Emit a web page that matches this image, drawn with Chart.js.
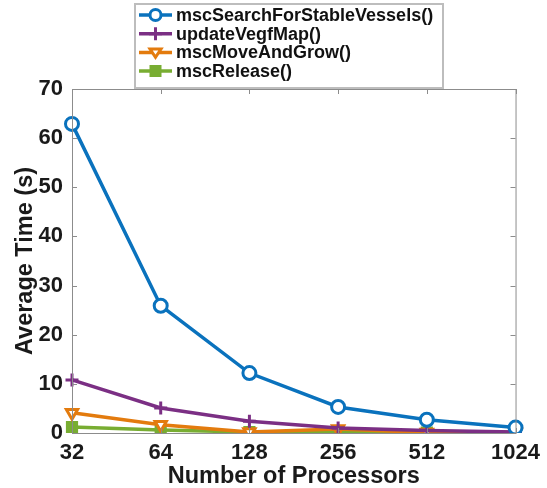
<!DOCTYPE html>
<html>
<head>
<meta charset="utf-8">
<script src="https://cdn.jsdelivr.net/npm/chart.js@4.4.1/dist/chart.umd.min.js"></script>
<style>
  html, body { margin: 0; padding: 0; background: #fff; }
  #wrap { width: 547px; height: 488px; }
</style>
</head>
<body>
<div id="wrap"><canvas id="chart" width="547" height="488"></canvas></div>
<script>
const processors = ['32', '64', '128', '256', '512', '1024'];
const searchStable = [62.9, 25.9, 12.2, 5.3, 2.7, 1.1];
const updateVegf = [10.8, 5.1, 2.4, 1.0, 0.5, 0.2];
const moveAndGrow = [4.1, 1.7, 0.2, 0.8, 0.1, 0.1];
const release = [1.2, 0.6, 0.2, 0.1, 0.1, 0.1];
const yTicks = [0, 10, 20, 30, 40, 50, 60, 70];

const font = "'Liberation Sans', Arial, sans-serif";

// box round the plot, ticks pointing in, and the boxed legend
const matlabBox = {
  id: 'matlabBox',
  afterDraw(chart) {
    const ctx = chart.ctx;
    const a = chart.chartArea;
    const x = chart.scales.x;
    const y = chart.scales.y;
    ctx.save();
    ctx.strokeStyle = '#8c8c8c';
    ctx.lineWidth = 1;
    ctx.strokeRect(a.left + 0.5, a.top + 0.5, a.right - a.left, a.bottom - a.top);
    ctx.beginPath();
    processors.forEach((p, i) => {
      const px = Math.round(x.getPixelForValue(i)) + 0.5;
      ctx.moveTo(px, a.bottom); ctx.lineTo(px, a.bottom - 5);
      ctx.moveTo(px, a.top); ctx.lineTo(px, a.top + 5);
    });
    yTicks.forEach(v => {
      const py = Math.round(y.getPixelForValue(v)) + 0.5;
      ctx.moveTo(a.left, py); ctx.lineTo(a.left + 5, py);
      ctx.moveTo(a.right, py); ctx.lineTo(a.right - 5, py);
    });
    ctx.stroke();

    // legend
    const lx = 135, ly = 4, lw = 308, lh = 84;
    ctx.fillStyle = '#fff';
    ctx.fillRect(lx, ly, lw, lh);
    ctx.strokeStyle = '#bdbdbd';
    ctx.lineWidth = 2;
    ctx.strokeRect(lx, ly, lw, lh);
    ctx.font = 'bold 18px ' + font;
    ctx.textBaseline = 'middle';
    chart.data.datasets.forEach((ds, i) => {
      const cy = 15 + i * 18.7;
      ctx.strokeStyle = ds.borderColor;
      ctx.lineWidth = 3.5;
      ctx.beginPath();
      ctx.moveTo(139, cy); ctx.lineTo(172, cy);
      ctx.stroke();
      drawMarker(ctx, ds, 155.5, cy);
      ctx.fillStyle = '#111';
      ctx.fillText(ds.label, 176, cy + 1);
    });
    ctx.restore();
  }
};

function drawMarker(ctx, ds, cx, cy) {
  const r = 5.5;
  ctx.save();
  ctx.strokeStyle = ds.borderColor;
  ctx.fillStyle = ds.pointBackgroundColor;
  ctx.lineWidth = 3;
  ctx.beginPath();
  if (ds.pointStyle === 'circle') {
    ctx.arc(cx, cy, r, 0, Math.PI * 2);
    ctx.fill(); ctx.stroke();
  } else if (ds.pointStyle === 'cross') {
    ctx.moveTo(cx - r - 1, cy); ctx.lineTo(cx + r + 1, cy);
    ctx.moveTo(cx, cy - r - 1); ctx.lineTo(cx, cy + r + 1);
    ctx.stroke();
  } else if (ds.pointStyle === 'triangle') {
    ctx.moveTo(cx - r, cy - r * 0.6); ctx.lineTo(cx + r, cy - r * 0.6); ctx.lineTo(cx, cy + r * 0.9);
    ctx.closePath(); ctx.fill(); ctx.stroke();
  } else {
    ctx.rect(cx - r + 1, cy - r + 1, 2 * r - 2, 2 * r - 2);
    ctx.fill(); ctx.stroke();
  }
  ctx.restore();
}

function series(label, data, color, style, fill, rot) {
  return {
    label: label,
    data: data,
    borderColor: color,
    backgroundColor: color,
    pointBackgroundColor: fill,
    pointBorderColor: color,
    pointStyle: style,
    pointRotation: rot || 0,
    pointRadius: 6.5,
    pointBorderWidth: 3,
    borderWidth: 3.5,
    tension: 0
  };
}

Chart.defaults.font.family = font;

new Chart(document.getElementById('chart').getContext('2d'), {
  type: 'line',
  data: {
    labels: processors,
    datasets: [
      series('mscSearchForStableVessels()', searchStable, '#0a72bd', 'circle', '#ffffff'),
      series('updateVegfMap()', updateVegf, '#7b2f84', 'cross', '#7b2f84'),
      series('mscMoveAndGrow()', moveAndGrow, '#e37b0e', 'triangle', '#ffffff', 180),
      series('mscRelease()', release, '#78ad32', 'rect', '#78ad32')
    ]
  },
  options: {
    responsive: false,
    animation: false,
    layout: { padding: { top: 89, right: 29, left: 0, bottom: 0 } },
    plugins: {
      legend: { display: false },
      tooltip: { enabled: false }
    },
    scales: {
      x: {
        type: 'category',
        offset: false,
        grid: { display: false, drawTicks: false },
        border: { display: false },
        ticks: { color: '#1a1a1a', font: { size: 22, weight: 'bold' }, maxRotation: 0, padding: 7 },
        title: { display: true, text: 'Number of Processors', color: '#1a1a1a', font: { size: 23.5, weight: 'bold' }, padding: { top: 0, bottom: -3 } },
        afterFit(scale) { scale.height = 55; }
      },
      y: {
        min: 0,
        max: 70,
        grid: { display: false, drawTicks: false },
        border: { display: false },
        afterBuildTicks(scale) { scale.ticks = yTicks.map(v => ({ value: v })); },
        ticks: { color: '#1a1a1a', font: { size: 22, weight: 'bold' }, padding: 9 },
        title: { display: true, text: 'Average Time (s)', color: '#1a1a1a', font: { size: 23.5, weight: 'bold' }, padding: { top: 11, bottom: 0 } },
        afterFit(scale) { scale.width = 72; }
      }
    }
  },
  plugins: [matlabBox]
});
</script>
</body>
</html>
